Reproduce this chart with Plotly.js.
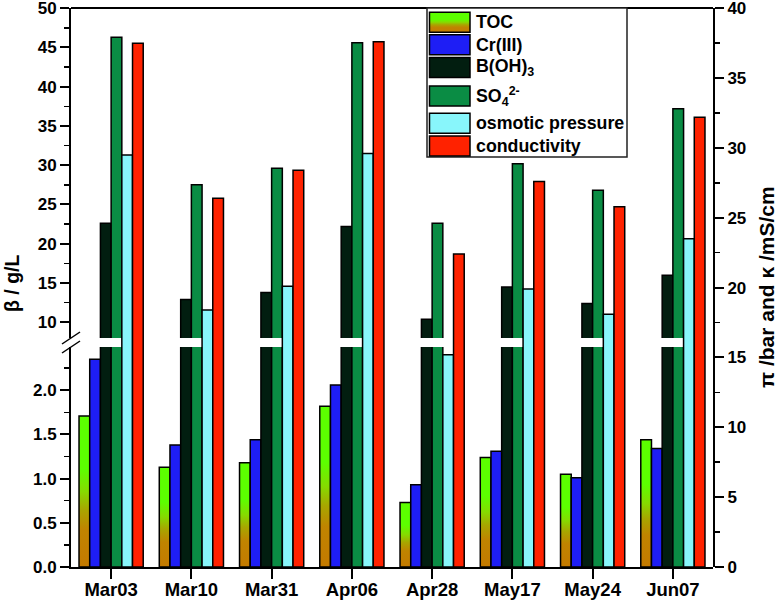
<!DOCTYPE html>
<html><head><meta charset="utf-8">
<script src="https://cdn.plot.ly/plotly-3.0.1.min.js"></script>
<style>html,body{margin:0;padding:0;background:#fff;}#chart{width:780px;height:602px;}</style>
</head><body><div id="chart"></div>
<script>
// ---- data ----
const categories = ['Mar03','Mar10','Mar31','Apr06','Apr28','May17','May24','Jun07'];
const toc          = [1.71, 1.13, 1.18, 1.82, 0.73, 1.24, 1.05, 1.44];   // g/L (lower left axis)
const cr3          = [2.35, 1.38, 1.44, 2.06, 0.93, 1.31, 1.01, 1.34];   // g/L
const boh3         = [22.6, 12.9, 13.8, 22.2, 10.4, 14.5, 12.4, 16.0];   // g/L (crosses break)
const so4          = [46.3, 27.5, 29.6, 45.6, 22.6, 30.2, 26.8, 37.2];   // g/L (crosses break)
const osmotic      = [29.5, 18.4, 20.1, 29.6, 15.2, 19.9, 18.1, 23.5];   // bar (right axis)
const conductivity = [37.5, 26.4, 28.4, 37.6, 22.4, 27.6, 25.8, 32.2];   // mS/cm (right axis)
const seriesNames  = ['TOC','Cr(III)','B(OH)<sub>3</sub>','SO<sub>4</sub><sup>2-</sup>','osmotic pressure','conductivity'];
const leftTitle  = 'β / g/L';
const rightTitle = 'π /bar and κ /mS/cm';

// ---- styling ----
const colors = ['#5cff00','#1e1ef5','#021e10','#0a8c44','#88f6fb','#ff2200'];
const FONT = 'Liberation Sans, Arial, Helvetica, sans-serif';
const M = {l:71, r:67, t:8, b:35};
const W = 780, H = 602;
const PW = W - M.l - M.r, PH = H - M.t - M.b;
const px2x = p => (p - M.l) / PW;
const py2y = p => (H - M.b - p) / PH;

const BW = 0.8 / 6;
function bar(i, y, axis) {
  return {
    type:'bar', name: seriesNames[i], x: categories, y: y, xaxis:'x', yaxis: axis,
    width: BW, offset: -0.4 + i * BW,
    marker:{color: colors[i], line:{color:'#000', width:1.5}},
    showlegend:false, hoverinfo:'skip'
  };
}
const data = [
  bar(0, toc, 'y'),
  bar(1, cr3, 'y'),
  bar(2, boh3, 'y'),
  bar(3, so4, 'y'),
  bar(2, boh3, 'y2'),
  bar(3, so4, 'y2'),
  bar(4, osmotic, 'y3'),
  bar(5, conductivity, 'y3')
];

const tickFont = {family: FONT, size: 17, color:'#000', weight:'bold'};
const axBase = {showline:true, linewidth:2, linecolor:'#000', ticks:'outside', ticklen:9, tickwidth:2,
  tickcolor:'#000', showgrid:false, zeroline:false, fixedrange:true, tickfont: tickFont, ticklabeloverflow:'allow'};
const minorBase = {ticks:'outside', ticklen:5, tickwidth:1.5, tickcolor:'#000', showgrid:false};

const lowerTop = py2y(347), upperBottom = py2y(338);

const shapes = [
  {type:'line', xref:'paper', yref:'paper', x0:0, x1:1, y0:1, y1:1, line:{color:'#000', width:2}},
  // axis break marks
  {type:'line', xref:'paper', yref:'paper', x0:px2x(62), x1:px2x(80), y0:py2y(353), y1:py2y(341), line:{color:'#000', width:1.5}},
  {type:'line', xref:'paper', yref:'paper', x0:px2x(62), x1:px2x(80), y0:py2y(344), y1:py2y(332), line:{color:'#000', width:1.5}},
  // legend box
  {type:'rect', xref:'paper', yref:'paper', x0:px2x(427), x1:px2x(627), y0:py2y(157), y1:py2y(8),
   fillcolor:'#fff', line:{color:'#222', width:1.5}, layer:'above'}
];
const rowCenters = [22.3, 44.7, 67.5, 96, 123.3, 146];
const annotations = [];
const swatchStart = shapes.length;
rowCenters.forEach((c, i) => {
  shapes.push({type:'rect', xref:'paper', yref:'paper', x0:px2x(429.5), x1:px2x(470), y0:py2y(c+10), y1:py2y(c-10),
    fillcolor: colors[i], line:{color:'#000', width:1.5}, layer:'above'});
  annotations.push({xref:'paper', yref:'paper', x:px2x(474), y:py2y(c), xanchor:'left', yanchor:'middle',
    text: seriesNames[i], showarrow:false, font:{family:FONT, size:17.8, color:'#000', weight:'bold'}});
});
annotations.push({xref:'paper', yref:'paper', x:px2x(12), y:py2y(284), xanchor:'center', yanchor:'middle',
  text:leftTitle, textangle:-90, showarrow:false, font:{family:FONT, size:19.5, color:'#000', weight:'bold'}});
annotations.push({xref:'paper', yref:'paper', x:px2x(766), y:py2y(287), xanchor:'center', yanchor:'middle',
  text:rightTitle, textangle:-90, showarrow:false, font:{family:FONT, size:21, color:'#000', weight:'bold'}});

const layout = {
  width: W, height: H, margin: M, paper_bgcolor:'#fff', plot_bgcolor:'rgba(0,0,0,0)',
  barmode:'overlay', showlegend:false,
  xaxis: Object.assign({}, axBase, {type:'category', range:[-0.5, 7.5], domain:[0,1], anchor:'y', ticklen:10,
    ticklabelstandoff:-5, tickfont:{family:FONT, size:18.5, color:'#000', weight:'bold'}}),
  yaxis: Object.assign({}, axBase, {domain:[0, lowerTop], range:[0, 2.49], anchor:'x', side:'left',
    dtick:0.5, tick0:0, tickformat:'.1f', minor: Object.assign({dtick:0.25, tick0:0}, minorBase)}),
  yaxis2: Object.assign({}, axBase, {domain:[upperBottom, 1], range:[8, 50.02], anchor:'x', side:'left',
    dtick:5, tick0:0, minor: Object.assign({dtick:2.5, tick0:0}, minorBase)}),
  yaxis3: Object.assign({}, axBase, {domain:[0, 1], range:[0, 40.02], anchor:'x', side:'right',
    dtick:5, tick0:0, minor: Object.assign({dtick:2.5, tick0:0}, minorBase)}),
  shapes: shapes, annotations: annotations
};

Plotly.newPlot('chart', data, layout, {staticPlot:true, displayModeBar:false}).then(gd => {
  const ns = 'http://www.w3.org/2000/svg';
  const svg = gd.querySelector('svg.main-svg');
  let defs = svg.querySelector('defs');
  if (!defs) { defs = document.createElementNS(ns, 'defs'); svg.insertBefore(defs, svg.firstChild); }
  const grad = document.createElementNS(ns, 'linearGradient');
  grad.setAttribute('id', 'tocGrad');
  grad.setAttribute('x1', '0'); grad.setAttribute('y1', '0');
  grad.setAttribute('x2', '0'); grad.setAttribute('y2', '1');
  [[0,'#5cff00'],[0.35,'#5cff00'],[0.5,'#86da00'],[0.62,'#a8a600'],[0.75,'#c08400'],[1,'#c47a00']].forEach(s => {
    const st = document.createElementNS(ns, 'stop');
    st.setAttribute('offset', s[0]); st.setAttribute('stop-color', s[1]);
    grad.appendChild(st);
  });
  defs.appendChild(grad);
  gd.querySelectorAll('g.trace.bars').forEach(g => {
    const d = g.__data__;
    if (d && d[0] && d[0].trace && d[0].trace.name === 'TOC') {
      g.querySelectorAll('path').forEach(p => { p.style.fill = 'url(#tocGrad)'; });
    }
  });
  gd.querySelectorAll('.shapelayer path').forEach(p => {
    if (p.getAttribute('data-index') === String(swatchStart)) p.style.fill = 'url(#tocGrad)';
  });
});
</script>
</body></html>
